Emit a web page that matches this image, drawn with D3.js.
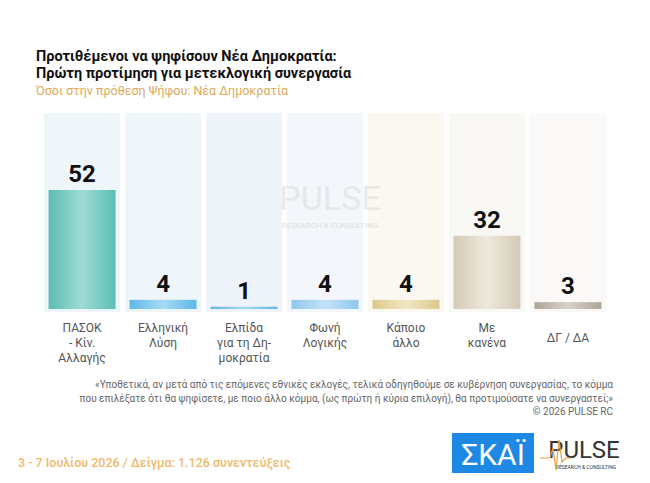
<!DOCTYPE html><html><head><meta charset="utf-8"><script src="https://cdn.jsdelivr.net/npm/d3@7"></script>
<style>body{margin:0;background:#fff}svg{font-family:Roboto,sans-serif}</style></head><body><svg id="c" width="650" height="483"></svg>
<script>
const categories=[["ΠΑΣΟΚ","- Κίν.","Αλλαγής"],["Ελληνική","Λύση"],["Ελπίδα","για τη Δη-","μοκρατία"],["Φωνή","Λογικής"],["Κάποιο","άλλο"],["Με","κανένα"],["ΔΓ / ΔΑ"]];
const values=[52,4,1,4,4,32,3];
const barColors=[["#9fdcd6","#5cbdb3"],["#a6daf5","#5eb8e8"],["#a6daf5","#5eb8e8"],["#c3e2f6","#8ec8ee"],["#f2e7c4","#dcc98d"],["#eee9dd","#d3cab6"],["#d8d2ca","#aea59a"]];
const panelColors=["#eef6fa","#eef6fa","#eef4fa","#f3f7fb","#fbf8f1","#faf8f4","#faf9f7"];
const svg=d3.select("#c");
const defs=svg.append("defs");
barColors.forEach((c,i)=>{const g=defs.append("linearGradient").attr("id","g"+i);
g.append("stop").attr("offset","0%").attr("stop-color",c[1]);g.append("stop").attr("offset","50%").attr("stop-color",c[0]);g.append("stop").attr("offset","100%").attr("stop-color",c[1]);});
const x=d3.scaleBand().domain(d3.range(7)).range([44,606]).paddingInner(0.06).paddingOuter(0);
const y=d3.scaleLinear().domain([0,52]).range([309,190]);
svg.selectAll(".p").data(values).join("rect").attr("x",(d,i)=>x(i)).attr("y",113).attr("width",x.bandwidth()).attr("height",199).attr("fill",(d,i)=>panelColors[i]);
const bw=x.bandwidth()*0.88;
svg.selectAll(".b").data(values).join("rect").attr("x",(d,i)=>x(i)+(x.bandwidth()-bw)/2).attr("y",d=>y(d)).attr("width",bw).attr("height",d=>y(0)-y(d)).attr("fill",(d,i)=>`url(#g${i})`);
svg.selectAll(".v").data(values).join("text").attr("x",(d,i)=>x(i)+x.bandwidth()/2).attr("y",d=>y(d)-8).attr("text-anchor","middle").attr("font-size",24).attr("font-weight",700).attr("fill","#111").text(d=>d);
categories.forEach((c,i)=>{const t=svg.append("text").attr("x",x(i)+x.bandwidth()/2).attr("y",c.length==1?342:332).attr("text-anchor","middle").attr("font-size",12).attr("fill","#555");
c.forEach((l,j)=>t.append("tspan").attr("x",x(i)+x.bandwidth()/2).attr("dy",j?15:0).text(l));});
svg.append("text").attr("x",36).attr("y",61).attr("font-size",14.5).attr("font-weight",700).attr("fill","#111").text("Προτιθέμενοι να ψηφίσουν Νέα Δημοκρατία:");
svg.append("text").attr("x",36).attr("y",78).attr("font-size",14.5).attr("font-weight",700).attr("fill","#111").text("Πρώτη προτίμηση για μετεκλογική συνεργασία");
svg.append("text").attr("x",36).attr("y",95).attr("font-size",12.5).attr("fill","#e0aa5a").text("Όσοι στην πρόθεση Ψήφου: Νέα Δημοκρατία");
svg.append("text").attr("x",330).attr("y",210).attr("text-anchor","middle").attr("font-size",34).attr("fill","#ddd").attr("opacity",0.6).text("PULSE");
svg.append("text").attr("x",330).attr("y",228).attr("text-anchor","middle").attr("font-size",8).attr("fill","#ddd").text("RESEARCH & CONSULTING");
const notes=["«Υποθετικά, αν μετά από τις επόμενες εθνικές εκλογές, τελικά οδηγηθούμε σε κυβέρνηση συνεργασίας, το κόμμα","που επιλέξατε ότι θα ψηφίσετε, με ποιο άλλο κόμμα, (ως πρώτη ή κύρια επιλογή), θα προτιμούσατε να συνεργαστεί;»","©  2026  PULSE RC"];
notes.forEach((n,i)=>svg.append("text").attr("x",613).attr("y",388+i*13.5).attr("text-anchor","end").attr("font-size",10).attr("fill","#666").text(n));
svg.append("text").attr("x",18).attr("y",467).attr("font-size",12.5).attr("font-weight",500).attr("fill","#f0b96a").text("3 - 7  Ιουλίου 2026  /  Δείγμα:  1.126 συνεντεύξεις");
svg.append("rect").attr("x",452).attr("y",433).attr("width",82).attr("height",40).attr("fill","#1e88e5");
svg.append("text").attr("x",493).attr("y",465).attr("text-anchor","middle").attr("font-size",30).attr("fill","#fff").text("ΣΚΑΪ");
svg.append("text").attr("x",584).attr("y",458).attr("text-anchor","middle").attr("font-size",24).attr("fill","#333").text("PULSE");
svg.append("text").attr("x",586).attr("y",469).attr("text-anchor","middle").attr("font-size",5).attr("fill","#333").text("RESEARCH & CONSULTING");
svg.append("path").attr("d","M540,458 L550,458 L553,448 L556,470 L559,440 L562,462 L566,458 L572,458").attr("fill","none").attr("stroke","#e0a040").attr("stroke-width",1.2);
</script></body></html>
